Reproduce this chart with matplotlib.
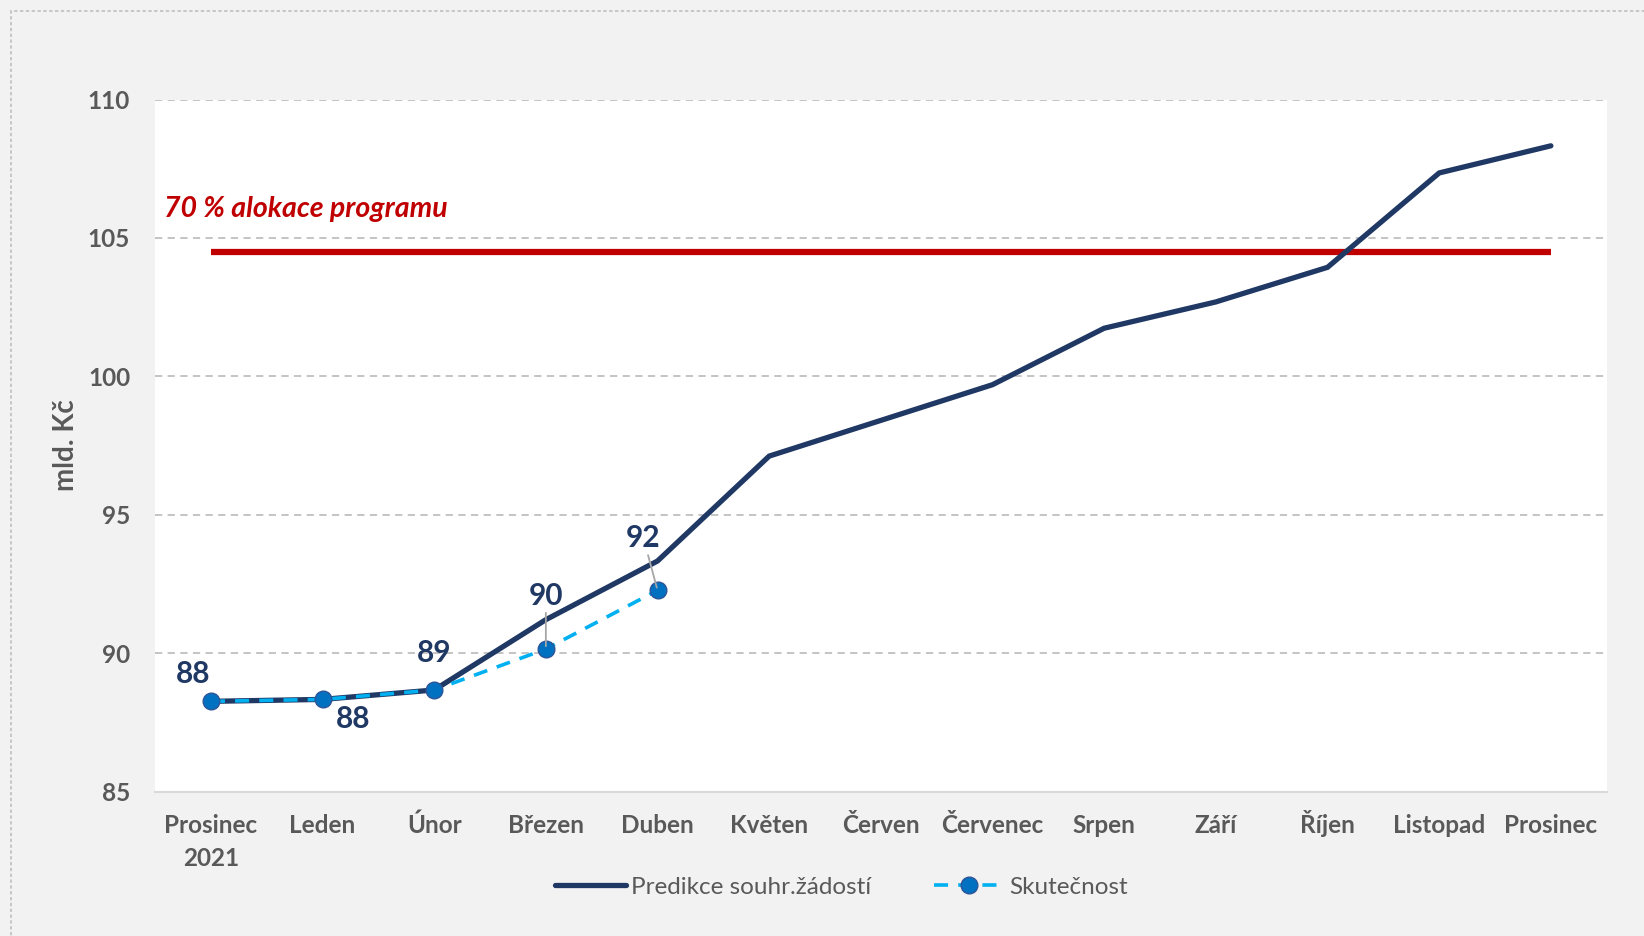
import matplotlib
matplotlib.use("Agg")
import matplotlib.pyplot as plt
from matplotlib.patches import Rectangle

# ---- data ----
categories = ["Prosinec\n2021", "Leden", "Únor", "Březen", "Duben", "Květen", "Červen",
              "Červenec", "Srpen", "Září", "Říjen", "Listopad", "Prosinec"]
prediction = [88.26, 88.33, 88.67, 91.21, 93.33, 97.12, 98.41, 99.70, 101.74,
              102.69, 103.94, 107.35, 108.33]
actual = [88.26, 88.33, 88.67, 90.15, 92.27]
actual_labels = ["88", "88", "89", "90", "92"]
threshold = 104.5
threshold_label = "70 % alokace programu"
yticks = [85, 90, 95, 100, 105, 110]
series_names = ["Predikce souhr.žádostí", "Skutečnost"]
ylabel = "mld. Kč"

FONT = ["Lato", "DejaVu Sans"]
plt.rcParams["font.family"] = FONT

NAVY = "#1F3864"
LBLUE = "#00B0F0"
MBLUE = "#0070C0"
RED = "#C00000"
GRAY = "#595959"

fig = plt.figure(figsize=(16.44, 9.36), dpi=100, facecolor="#F2F2F2")
ax = fig.add_axes([0.0943, 0.1543, 0.883, 0.7393])
ax.set_facecolor("white")

x = list(range(len(categories)))
xa = x[:len(actual)]

ax.set_xlim(-0.5, len(categories) - 0.5)
ax.set_ylim(85, 110)
ax.set_yticks(yticks)
ax.set_yticklabels([str(v) for v in yticks])
ax.set_xticks(x)
ax.set_xticklabels([])
ax.tick_params(axis="both", length=0, colors=GRAY, labelsize=17.5)
ax.tick_params(axis="y", pad=18)
for lab in ax.get_yticklabels():
    lab.set_fontweight("bold")
    lab.set_color(GRAY)

# category labels: each line placed on its own baseline below the axis
for xi, cat in zip(x, categories):
    for k, line in enumerate(cat.split("\n")):
        ax.annotate(line, (xi, 0), xycoords=ax.get_xaxis_transform(),
                    xytext=(0, -41.5 - 32.5 * k), textcoords="offset pixels",
                    ha="center", va="baseline", fontsize=17.5,
                    fontweight="bold", color=GRAY, annotation_clip=False)

for s in ["top", "right", "left"]:
    ax.spines[s].set_visible(False)
ax.spines["bottom"].set_color("#D9D9D9")
ax.spines["bottom"].set_linewidth(1.5)

ax.yaxis.grid(True, linestyle=(0, (4, 3)), color="#BFBFBF", linewidth=1.3)
ax.set_axisbelow(True)

fig.text(66 / 1644, 0.524, ylabel, rotation=90, ha="center", va="center",
         fontsize=20, fontweight="bold", color=GRAY)

# threshold line
ax.plot([x[0], x[-1]], [threshold, threshold], color=RED, linewidth=4.5,
        solid_capstyle="butt", zorder=2)
ax.text(-0.42, threshold + 1.55, threshold_label, color=RED, fontsize=20.5,
        fontweight="bold", fontstyle="italic", ha="left", va="center")

# prediction
l1, = ax.plot(x, prediction, color=NAVY, linewidth=3.8, solid_capstyle="round",
              solid_joinstyle="miter", zorder=3, label=series_names[0])
# actual
l2, = ax.plot(xa, actual, color=LBLUE, linewidth=2.6, linestyle=(0, (3.9, 2.8)),
              marker="o", markersize=12, markerfacecolor=MBLUE,
              markeredgecolor="#2E5597", markeredgewidth=1, zorder=4,
              label=series_names[1])

offsets = [(-18, 27), (31, -20), (0, 37), (0, 53), (-14, 52)]
leaders = [False, False, False, True, True]
for xi, yi, lab, off, ld in zip(xa, actual, actual_labels, offsets, leaders):
    kw = {}
    if ld:
        kw["arrowprops"] = dict(arrowstyle="-", color="#A6A6A6", lw=1.3,
                                shrinkA=0, shrinkB=2)
    ax.annotate(lab, (xi, yi), xytext=off, textcoords="offset pixels",
                ha="center", va="center", fontsize=21.5, fontweight="bold",
                color=NAVY, zorder=5, **kw)

leg = fig.legend(handles=[l1, l2], loc="center", bbox_to_anchor=(0.512, 0.052),
                 ncol=2, frameon=False, fontsize=17.5, handlelength=2.9,
                 columnspacing=2.6, handletextpad=0.2)
for t in leg.get_texts():
    t.set_color(GRAY)

# dashed frame
fig.patches.append(Rectangle((11 / 1644, -0.2), 1.2, 1 - 11 / 936 + 0.2,
                             transform=fig.transFigure, fill=False,
                             edgecolor="#BFBFBF", linestyle=(0, (2, 1.5)),
                             linewidth=1.2))

fig.savefig("out.png", dpi=100, facecolor=fig.get_facecolor())
